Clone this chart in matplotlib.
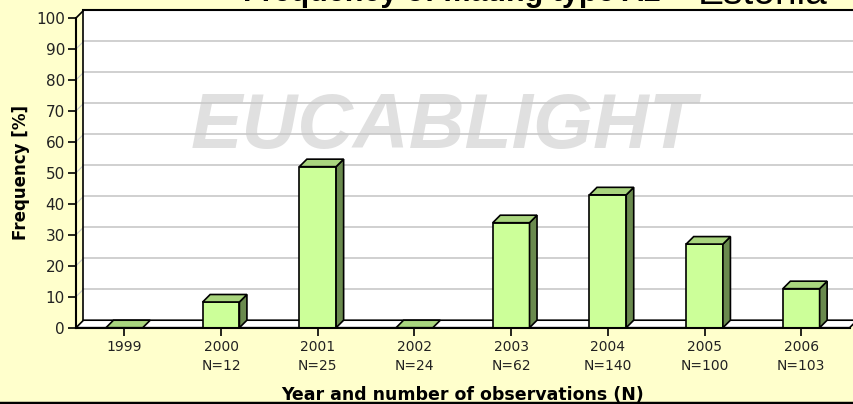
#!/usr/bin/env python3

import matplotlib.pyplot as plt
from matplotlib.patches import Polygon, Rectangle
import numpy as np


# Datos
years = ['1999', '2000', '2001', '2002', '2003', '2004', '2005', '2006']
n_obs = ['', 'N=12', 'N=25', 'N=24', 'N=62', 'N=140', 'N=100', 'N=103']
freq = [0, 8.3, 52.0, 0, 33.9, 42.9, 27.0, 12.6]

W, H = 854, 404
fig = plt.figure(figsize=(W / 100, H / 100), dpi=100, facecolor='#FFFFCC')

# plano frontal del gráfico (en píxeles)
x0, x1 = 76, 849.6
y0, y1 = 327.7, 18
ax = fig.add_axes([x0 / W, 1 - y0 / H, (x1 - x0) / W, (y0 - y1) / H])
ax.set_xlim(-0.5, 7.5)
ax.set_ylim(0, 100)
ax.patch.set_visible(False)

# profundidad 3D en unidades de datos
depth_px = 7.5
dx = depth_px / ((x1 - x0) / 8)
dy = depth_px / ((y0 - y1) / 100)

# pared de fondo
ax.add_patch(Rectangle((-0.5 + dx, dy), 8, 100, facecolor='white', edgecolor='none',
                       clip_on=False, zorder=0))
for v in range(10, 100, 10):
    ax.plot([-0.5 + dx, 7.5 + dx], [v + dy, v + dy], color='#C8C8C8', lw=1.2,
            clip_on=False, zorder=1)
    ax.plot([-0.5, -0.5 + dx], [v, v + dy], color='#C8C8C8', lw=0.8,
            clip_on=False, zorder=1)
ax.plot([-0.5 + dx, 7.5 + dx], [100 + dy, 100 + dy], color='black', lw=1.5,
        clip_on=False, zorder=2)
ax.plot([-0.5 + dx, -0.5 + dx], [dy, 100 + dy], color='black', lw=1.2,
        clip_on=False, zorder=2)
ax.plot([-0.5, -0.5 + dx], [100, 100 + dy], color='black', lw=1.2,
        clip_on=False, zorder=2)

# suelo
floor = Polygon([(-0.5, 0), (7.5, 0), (7.5 + dx, dy), (-0.5 + dx, dy)], closed=True,
                facecolor='white', edgecolor='black', lw=1.2, clip_on=False, zorder=2)
ax.add_patch(floor)

# marca de agua (detrás de la rejilla)
ax.text(3.3, 64.5, 'EUCABLIGHT', ha='center', va='center', fontsize=55.5,
        fontfamily='Liberation Sans', fontweight='bold', fontstyle='italic',
        color='#E0E0E0', zorder=0.5)

# barras 3D
w = 0.38
front_c, top_c, side_c = '#CCFF99', '#A9D57E', '#6A8A4E'
for i, v in enumerate(freq):
    l, r = i - w / 2, i + w / 2
    if v > 0:
        ax.add_patch(Rectangle((l, 0), w, v, facecolor=front_c, edgecolor='black',
                               lw=1.2, zorder=4))
        ax.add_patch(Polygon([(r, 0), (r + dx, dy), (r + dx, v + dy), (r, v)],
                             closed=True, facecolor=side_c, edgecolor='black',
                             lw=1.2, zorder=4))
    ax.add_patch(Polygon([(l, v), (r, v), (r + dx, v + dy), (l + dx, v + dy)],
                         closed=True, facecolor=top_c, edgecolor='black',
                         lw=1.2, zorder=4))

# ejes
for s in ['top', 'right']:
    ax.spines[s].set_visible(False)
ax.spines['left'].set_linewidth(1.5)
ax.spines['bottom'].set_linewidth(1.5)
ax.spines['left'].set_zorder(5)
ax.spines['bottom'].set_zorder(5)
ax.set_yticks(np.arange(0, 101, 10))
ax.set_xticks(range(len(years)))
ax.set_xticklabels([f'{y}\n{n}' for y, n in zip(years, n_obs)], linespacing=1.45,
                   va='top')
ax.tick_params(axis='both', direction='out', length=6, width=1.2, labelsize=11,
               labelcolor='#222222')
ax.tick_params(axis='x', pad=3, labelsize=10)
ax.tick_params(axis='y', pad=2)

ax.set_xlabel('Year and number of observations (N)', fontsize=12.5,
              fontweight='bold', labelpad=9)
ax.set_ylabel('Frequency [%]', fontsize=12, fontweight='bold', labelpad=4)

# título (cortado en la parte superior, como en el original)
fig.text(243 / W, 1 - 1.5 / H, 'Frequency of mating type A2 \u2013', ha='left',
         va='baseline', fontsize=22, fontfamily='Liberation Sans', fontweight='bold')
fig.text(698 / W, 1 - 3.5 / H, 'Estonia', ha='left', va='baseline', fontsize=28,
         fontfamily='Liberation Sans')

# borde inferior
fig.add_artist(plt.Line2D([0, 1], [1 / H, 1 / H], color='black', lw=2.5))

fig.savefig('out.png', dpi=100, facecolor=fig.get_facecolor())
